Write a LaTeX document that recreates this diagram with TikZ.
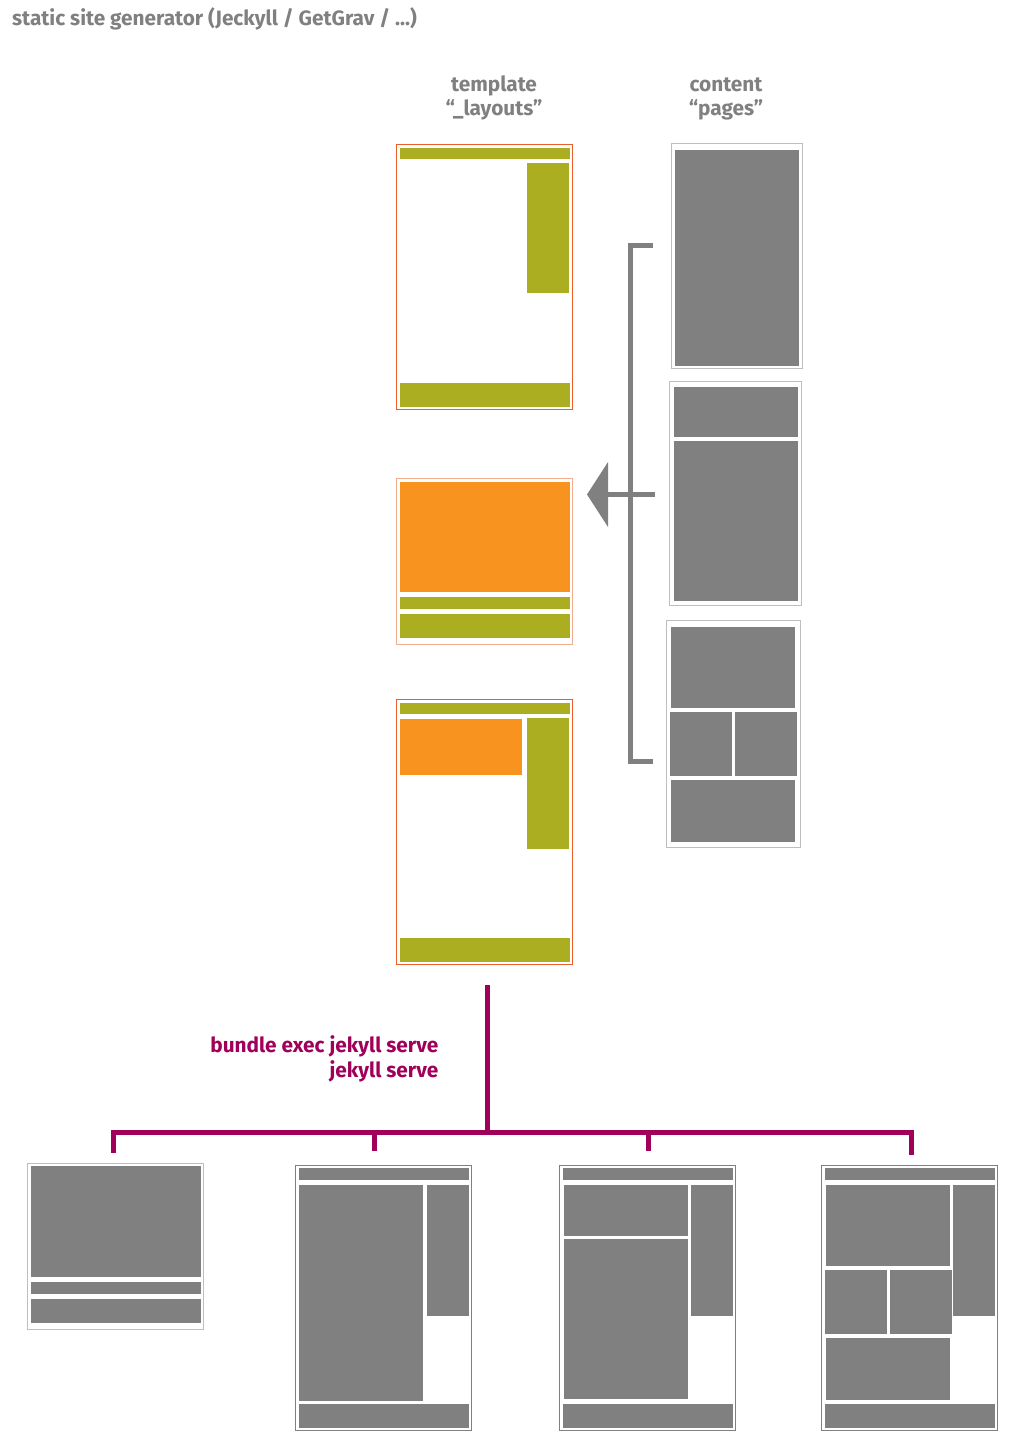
\documentclass[tikz,border=0pt]{standalone}
\usepackage{fontspec}
\setmainfont{Fira Sans}
\definecolor{tgreen}{RGB}{171,174,33}
\definecolor{torange}{RGB}{247,147,30}
\definecolor{tborder}{RGB}{234,94,42}
\definecolor{tborderlight}{RGB}{244,172,142}
\definecolor{cgray}{RGB}{128,128,128}
\definecolor{cframe}{RGB}{190,190,190}
\definecolor{cpurple}{RGB}{160,0,90}
\definecolor{tgray}{RGB}{128,128,128}
\begin{document}
\begin{tikzpicture}[x=1pt,y=-1pt,
  frame/.style={draw, line width=1.3pt, inner sep=0pt, outer sep=0pt, anchor=north west, fill=white},
  tframe/.style={frame, draw=tborder},
  tframelight/.style={frame, draw=tborderlight},
  cframebox/.style={frame, draw=cframe},
  oframe/.style={frame, draw=cgray},
  lbl/.style={font=\fontsize{20.8}{24}\selectfont\bfseries, text=tgray, inner sep=0pt},
  plbl/.style={font=\fontsize{20.8}{24.5}\selectfont\bfseries, text=cpurple, inner sep=0pt, align=right},
  bracket/.style={draw=cgray, line width=5pt},
  tree/.style={draw=cpurple, line width=4.5pt}
]
\useasboundingbox (0,0) rectangle (1024,1451);
\fill[white] (0,0) rectangle (1024,1451);

% title and headers
\node[lbl, anchor=base west] (title) at (12,25) {static site generator (Jeckyll / GetGrav / ...)};
\node[lbl, align=center, anchor=base] (thead) at (494,115) {template\\“\_layouts”};
\node[lbl, align=center, anchor=base] (chead) at (726,115) {content\\“pages”};

% template boxes
\node[tframe, minimum width=176pt, minimum height=265pt] (t1) at (396.75,144.75) {};
\fill[tgreen] (400,148) rectangle (570,159);
\fill[tgreen] (527,163) rectangle (569,293);
\fill[tgreen] (400,383) rectangle (570,407);

\node[tframelight, minimum width=176pt, minimum height=166pt] (t2) at (396.75,478.75) {};
\fill[torange] (400,482) rectangle (570,592);
\fill[tgreen] (400,597) rectangle (570,609);
\fill[tgreen] (400,614) rectangle (570,638);

\node[tframe, minimum width=176pt, minimum height=265pt] (t3) at (396.75,699.75) {};
\fill[tgreen] (400,703) rectangle (570,714);
\fill[torange] (400,719) rectangle (522,775);
\fill[tgreen] (527,718) rectangle (569,849);
\fill[tgreen] (400,938) rectangle (570,962);

% content boxes
\node[cframebox, minimum width=131pt, minimum height=225pt] (c1) at (671.75,143.75) {};
\fill[cgray] (675,150) rectangle (799,366);

\node[cframebox, minimum width=132pt, minimum height=224pt] (c2) at (669.75,381.75) {};
\fill[cgray] (674,387) rectangle (798,437);
\fill[cgray] (674,441) rectangle (798,601);

\node[cframebox, minimum width=134pt, minimum height=227pt] (c3) at (666.75,620.75) {};
\fill[cgray] (671,627) rectangle (795,708);
\fill[cgray] (670,712) rectangle (732,776);
\fill[cgray] (735,712) rectangle (797,776);
\fill[cgray] (671,780) rectangle (795,842);

% bracket and arrow
\coordinate (bt) at (653,245.5);
\coordinate (bb) at (653,761.5);
\coordinate (bm) at (655,494.5);
\coordinate (tip) at (587,494.5);
\draw[bracket] (bt) -- (630.5,245.5) -- (630.5,761.5) -- (bb);
\draw[bracket] (bm) -- (606,494.5);
\fill[cgray] (tip) -- (608,462) -- (608,527) -- cycle;

% generator tree
\coordinate (gtop) at (487.5,985);
\coordinate (gmid) at (487.5,1132.5);
\coordinate (gl) at (113.5,1132.5);
\coordinate (gr) at (911.5,1132.5);
\coordinate (d1) at (113.5,1153);
\coordinate (d2) at (374.5,1151);
\coordinate (d3) at (648.5,1151);
\coordinate (d4) at (911.5,1155);
\draw[tree] (gtop) -- (gmid);
\draw[tree] ([xshift=-2.25pt]gl) -- ([xshift=2.25pt]gr);
\draw[tree] (gl) -- (d1);
\draw[tree] (374.5,1132.5) -- (d2);
\draw[tree] (648.5,1132.5) -- (d3);
\draw[tree] (gr) -- (d4);
\node[plbl, anchor=base east] (cmd) at (438.5,1077) {bundle exec jekyll serve\\jekyll serve};

% output pages
\node[cframebox, minimum width=176pt, minimum height=166pt] (o1) at (27.75,1163.75) {};
\fill[cgray] (31,1166) rectangle (201,1277);
\fill[cgray] (31,1282) rectangle (201,1294);
\fill[cgray] (31,1299) rectangle (201,1323);

\node[oframe, minimum width=176pt, minimum height=265pt] (o2) at (295.75,1165.75) {};
\fill[cgray] (299,1168) rectangle (469,1180);
\fill[cgray] (299,1185) rectangle (423,1401);
\fill[cgray] (427,1185) rectangle (469,1316);
\fill[cgray] (299,1404) rectangle (469,1428);

\node[oframe, minimum width=176pt, minimum height=265pt] (o3) at (559.75,1165.75) {};
\fill[cgray] (563,1168) rectangle (733,1180);
\fill[cgray] (564,1185) rectangle (688,1236);
\fill[cgray] (564,1239) rectangle (688,1399);
\fill[cgray] (691,1185) rectangle (733,1316);
\fill[cgray] (563,1404) rectangle (733,1428);

\node[oframe, minimum width=176pt, minimum height=265pt] (o4) at (821.75,1165.75) {};
\fill[cgray] (825,1168) rectangle (995,1180);
\fill[cgray] (826,1185) rectangle (950,1266);
\fill[cgray] (825,1270) rectangle (887,1334);
\fill[cgray] (890,1270) rectangle (952,1334);
\fill[cgray] (826,1338) rectangle (950,1400);
\fill[cgray] (953,1185) rectangle (995,1316);
\fill[cgray] (825,1404) rectangle (995,1428);
\end{tikzpicture}
\end{document}
